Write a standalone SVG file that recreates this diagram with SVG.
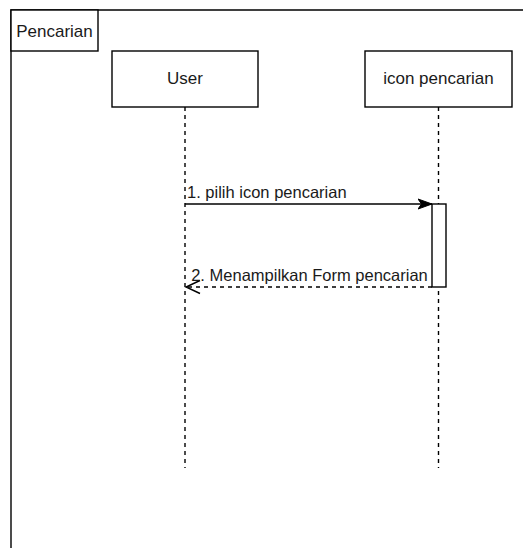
<svg xmlns="http://www.w3.org/2000/svg" width="523" height="548" viewBox="0 0 523 548">
<style>
.ln{fill:none;stroke:#000;stroke-width:1.4}
.box{fill:#fff;stroke:#000;stroke-width:1.4}
.life{fill:none;stroke:#000;stroke-width:1.4;stroke-dasharray:4 4}
.t{font-family:"Liberation Sans",Arial,sans-serif;font-size:17px;fill:#1a1a1a}
.m{font-family:"Liberation Sans",Arial,sans-serif;font-size:16.5px;fill:#1a1a1a}
</style>
<defs>
<marker id="fill" markerUnits="userSpaceOnUse" markerWidth="16" markerHeight="12" refX="14" refY="6" orient="auto">
<path d="M0,1 L14,6 L0,11 L3.5,6 Z" fill="#000" stroke="#000" stroke-width="1"/>
</marker>
<marker id="open" markerUnits="userSpaceOnUse" markerWidth="18" markerHeight="16" refX="15" refY="8" orient="auto">
<path d="M1,1.5 L15,8 L1,14.5" fill="none" stroke="#000" stroke-width="1.4"/>
</marker>
</defs>
<rect width="523" height="548" fill="#fff"/>
<g id="frame">
<path class="ln" d="M11,548 L11,10 L523,10"/>
<rect class="box" x="11" y="10" width="87" height="41"/>
<text class="t" x="54.5" y="37" text-anchor="middle">Pencarian</text>
</g>
<g id="user">
<line class="life" x1="185" y1="107" x2="185" y2="468"/>
<rect class="box" x="112" y="51" width="146" height="56"/>
<text class="t" x="185" y="84" text-anchor="middle">User</text>
</g>
<g id="icon">
<line class="life" x1="438.5" y1="107" x2="438.5" y2="468"/>
<rect class="box" x="365" y="51" width="147" height="56"/>
<text class="t" x="438.5" y="84" text-anchor="middle">icon pencarian</text>
<rect class="box" x="432" y="204" width="14" height="83"/>
</g>
<g id="connectors">
<line class="ln" x1="185" y1="204" x2="432" y2="204" marker-end="url(#fill)"/>
<text class="m" x="187" y="198">1. pilih icon pencarian</text>
<line class="ln" x1="432" y1="287" x2="186" y2="287" stroke-dasharray="4 4" marker-end="url(#open)"/>
<text class="m" x="309.5" y="281" text-anchor="middle">2. Menampilkan Form pencarian</text>
</g>
</svg>
